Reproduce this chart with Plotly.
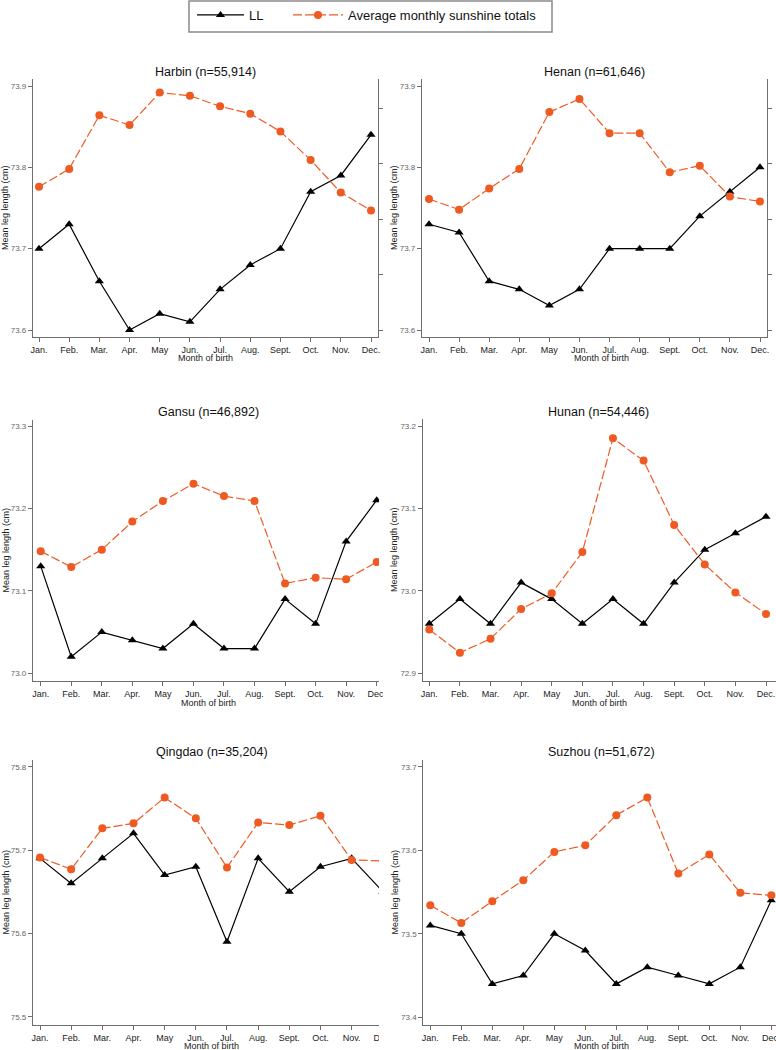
import plotly.graph_objects as go

# ---------------- data ----------------
months = ["Jan.", "Feb.", "Mar.", "Apr.", "May", "Jun.", "Jul.", "Aug.", "Sept.", "Oct.", "Nov.", "Dec."]

titles = ["Harbin (n=55,914)", "Henan (n=61,646)", "Gansu (n=46,892)",
          "Hunan (n=54,446)", "Qingdao (n=35,204)", "Suzhou (n=51,672)"]

# Mean leg length (cm), LL series
ll_harbin = [73.70, 73.73, 73.66, 73.60, 73.62, 73.61, 73.65, 73.68, 73.70, 73.77, 73.79, 73.84]
ll_henan = [73.73, 73.72, 73.66, 73.65, 73.63, 73.65, 73.70, 73.70, 73.70, 73.74, 73.77, 73.80]
ll_gansu = [73.13, 73.02, 73.05, 73.04, 73.03, 73.06, 73.03, 73.03, 73.09, 73.06, 73.16, 73.21]
ll_hunan = [72.96, 72.99, 72.96, 73.01, 72.99, 72.96, 72.99, 72.96, 73.01, 73.05, 73.07, 73.09]
ll_qingdao = [75.69, 75.66, 75.69, 75.72, 75.67, 75.68, 75.59, 75.69, 75.65, 75.68, 75.69, 75.65]
ll_suzhou = [73.51, 73.50, 73.44, 73.45, 73.50, 73.48, 73.44, 73.46, 73.45, 73.44, 73.46, 73.54]

sun_harbin = [73.776, 73.798, 73.864, 73.852, 73.892, 73.888, 73.875, 73.866, 73.844, 73.809, 73.769, 73.747]
sun_henan = [73.761, 73.748, 73.774, 73.798, 73.868, 73.884, 73.842, 73.842, 73.794, 73.802, 73.764, 73.758]
sun_gansu = [73.148, 73.129, 73.150, 73.184, 73.209, 73.230, 73.215, 73.209, 73.109, 73.116, 73.114, 73.135]
sun_hunan = [72.953, 72.925, 72.942, 72.978, 72.997, 73.047, 73.185, 73.158, 73.080, 73.032, 72.998, 72.972]
sun_qingdao = [75.691, 75.677, 75.726, 75.732, 75.763, 75.738, 75.679, 75.733, 75.730, 75.741, 75.688, 75.687]
sun_suzhou = [73.534, 73.513, 73.539, 73.564, 73.598, 73.606, 73.642, 73.663, 73.572, 73.595, 73.549, 73.546]

y_ticks = [[73.6, 73.7, 73.8, 73.9], [73.6, 73.7, 73.8, 73.9], [73.0, 73.1, 73.2, 73.3],
           [72.9, 73.0, 73.1, 73.2], [75.5, 75.6, 75.7, 75.8], [73.4, 73.5, 73.6, 73.7]]

ll_series = [ll_harbin, ll_henan, ll_gansu, ll_hunan, ll_qingdao, ll_suzhou]
sun_series = [sun_harbin, sun_henan, sun_gansu, sun_hunan, sun_qingdao, sun_suzhou]

# ---------------- layout geometry (pixels) ----------------
W, H = 776, 1050
FONT = "Liberation Sans, Arial, sans-serif"
ORANGE = "#EF5A22"
AXC = "#6e6e6e"

panels = [
    dict(l=33, r=378, t=79, b=337, jan=39, dec=371, plo=330, phi=86, raxis=True, tx=205.5, ty=71.7, mx=205, my=357.7, yx=5),
    dict(l=422, r=767, t=79, b=337, jan=429, dec=760, plo=330, phi=86, raxis=True, tx=594.5, ty=71.7, mx=601, my=357.7, yx=394),
    dict(l=33, r=392, t=420, b=681, jan=40.7, dec=376.7, plo=673.3, phi=426, raxis=False, tx=208.5, ty=411.7, mx=208, my=703, yx=5),
    dict(l=422.7, r=776, t=419, b=681, jan=429.3, dec=766, plo=673.3, phi=426, raxis=False, tx=598, ty=411.7, mx=599, my=703, yx=394),
    dict(l=33, r=392, t=760, b=1025, jan=40, dec=382.8, plo=1016.7, phi=766.7, raxis=False, tx=212, ty=751.7, mx=212, my=1045.7, yx=5),
    dict(l=423.3, r=776, t=760, b=1025, jan=430.3, dec=771.3, plo=1017.3, phi=766.7, raxis=False, tx=601, ty=751.7, mx=601, my=1045.7, yx=394),
]

fig = go.Figure()
legend_common = dict(orientation="h", y=1.0, xanchor="left", yanchor="top",
                     borderwidth=0, bgcolor="rgba(0,0,0,0)",
                     font=dict(size=13, color="#111", family=FONT))
layout = dict(
    width=W, height=H, autosize=False,
    margin=dict(l=0, r=0, t=0, b=0, pad=0),
    paper_bgcolor="white", plot_bgcolor="white",
    font=dict(family=FONT, color="#222"),
    showlegend=True,
    legend=dict(x=192 / W, itemwidth=47, **legend_common),
    legend2=dict(x=288 / W, itemwidth=50, **legend_common),
)
annotations = []
shapes = []

for i, p in enumerate(panels):
    n = i + 1
    xa = "x" if n == 1 else f"x{n}"
    ya = "y" if n == 1 else f"y{n}"
    xk = "xaxis" if n == 1 else f"xaxis{n}"
    yk = "yaxis" if n == 1 else f"yaxis{n}"
    step = (p["dec"] - p["jan"]) / 11.0
    xr = [-(p["jan"] - p["l"]) / step, 11 + (p["r"] - p["dec"]) / step]
    lo, hi = y_ticks[i][0], y_ticks[i][-1]
    upx = (p["plo"] - p["phi"]) / (hi - lo)
    yr = [lo - (p["b"] - p["plo"]) / upx, hi + (p["phi"] - p["t"]) / upx]

    layout[xk] = dict(domain=[p["l"] / W, p["r"] / W], anchor=ya, type="category",
                      categoryorder="array", categoryarray=months,
                      range=xr, showline=True, linecolor=AXC, linewidth=1.2,
                      ticks="outside", ticklen=4, tickwidth=1, tickcolor=AXC,
                      showgrid=False, zeroline=False, automargin=False,
                      tickfont=dict(size=9, color="#222", family=FONT))
    layout[yk] = dict(domain=[1 - p["b"] / H, 1 - p["t"] / H], anchor=xa,
                      range=yr, tickvals=y_ticks[i], tickformat=".1f",
                      showline=True, linecolor=AXC, linewidth=1.2,
                      ticks="outside", ticklen=4, tickwidth=1, tickcolor=AXC,
                      showgrid=False, zeroline=False, automargin=False,
                      tickfont=dict(size=8, color="#666", family=FONT))

    fig.add_trace(go.Scatter(
        x=months, y=ll_series[i], xaxis=xa, yaxis=ya, name="LL",
        mode="lines+markers", legend="legend", showlegend=(i == 0),
        line=dict(color="black", width=1.2),
        marker=dict(symbol="triangle-up", size=8, color="black")))
    fig.add_trace(go.Scatter(
        x=months, y=sun_series[i], xaxis=xa, yaxis=ya, name="Average monthly sunshine totals",
        mode="lines+markers", legend="legend2", showlegend=(i == 0),
        line=dict(color=ORANGE, width=1.2, dash="9px,3px"),
        marker=dict(symbol="circle", size=8, color=ORANGE)))

    if p["raxis"]:
        rk = f"yaxis{6 + n}"
        ra = f"y{6 + n}"
        rstep = 55.5
        layout[rk] = dict(overlaying=ya, side="right", anchor=xa,
                          range=[-(p["b"] - p["plo"]) / rstep, (p["plo"] - p["t"]) / rstep],
                          tickvals=[0, 1, 2, 3, 4], showticklabels=False,
                          showline=True, linecolor=AXC, linewidth=1.2,
                          ticks="outside", ticklen=4, tickwidth=1, tickcolor=AXC,
                          showgrid=False, zeroline=False, automargin=False)
        fig.add_trace(go.Scatter(x=months, y=[None] * 12, xaxis=xa, yaxis=ra,
                                 showlegend=False, hoverinfo="skip", mode="lines"))

    annotations.append(dict(text=titles[i], x=p["tx"] / W, y=1 - p["ty"] / H, xref="paper", yref="paper",
                            xanchor="center", yanchor="middle", showarrow=False,
                            font=dict(size=12.5, color="#111", family=FONT)))
    annotations.append(dict(text="Month of birth", x=p["mx"] / W, y=1 - p["my"] / H, xref="paper", yref="paper",
                            xanchor="center", yanchor="middle", showarrow=False,
                            font=dict(size=9, color="#222", family=FONT)))
    annotations.append(dict(text="Mean leg length (cm)", x=p["yx"] / W, y=1 - (p["t"] + p["b"]) / 2 / H,
                            xref="paper", yref="paper", xanchor="center", yanchor="middle",
                            textangle=-90, showarrow=False,
                            font=dict(size=9, color="#222", family=FONT)))

# legend frame
shapes.append(dict(type="rect", xref="paper", yref="paper", layer="below",
                   x0=189 / W, x1=552 / W, y0=1 - 32 / H, y1=1 - 1 / H,
                   fillcolor="white", line=dict(color="#8a8a8a", width=1.5)))
# cropped right edges of the left-column panels in the middle and bottom rows
shapes.append(dict(type="rect", xref="paper", yref="paper", layer="above",
                   x0=379 / W, x1=392 / W, y0=1 - 686 / H, y1=1 - 415 / H,
                   fillcolor="white", line=dict(width=0)))
shapes.append(dict(type="rect", xref="paper", yref="paper", layer="above",
                   x0=383 / W, x1=392 / W, y0=1 - 697 / H, y1=1 - 686 / H,
                   fillcolor="white", line=dict(width=0)))
shapes.append(dict(type="rect", xref="paper", yref="paper", layer="above",
                   x0=379 / W, x1=392 / W, y0=1 - 1042 / H, y1=1 - 755 / H,
                   fillcolor="white", line=dict(width=0)))

layout["annotations"] = annotations
layout["shapes"] = shapes
fig.update_layout(**layout)
fig.write_html(
    "out.html",
    config={"displayModeBar": False},
    post_script="document.body.style.margin='0px';document.body.style.padding='0px';"
                "document.documentElement.style.overflow='hidden';document.body.style.overflow='hidden';",
)
